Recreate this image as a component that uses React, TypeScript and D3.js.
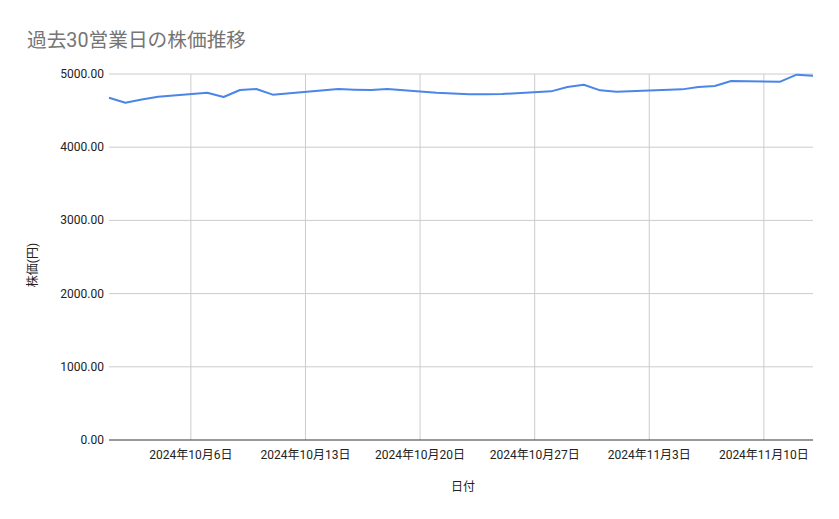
import React, { useRef, useEffect } from 'react';
import * as d3 from 'd3';

// trading days (Oct 14 and Nov 4 are market holidays)
const dates = [
  '2024-10-01', '2024-10-02', '2024-10-03', '2024-10-04',
  '2024-10-07', '2024-10-08', '2024-10-09', '2024-10-10', '2024-10-11',
  '2024-10-15', '2024-10-16', '2024-10-17', '2024-10-18',
  '2024-10-21', '2024-10-22', '2024-10-23', '2024-10-24', '2024-10-25',
  '2024-10-28', '2024-10-29', '2024-10-30', '2024-10-31', '2024-11-01',
  '2024-11-05', '2024-11-06', '2024-11-07', '2024-11-08',
  '2024-11-11', '2024-11-12', '2024-11-13',
];
const prices = [
  4676, 4608, 4652, 4690,
  4745, 4686, 4781, 4795, 4718,
  4795, 4786, 4781, 4795,
  4745, 4734, 4722, 4722, 4727,
  4763, 4822, 4854, 4777, 4758,
  4790, 4822, 4836, 4904,
  4895, 4991, 4977,
];
const xTicks = ['2024-10-06', '2024-10-13', '2024-10-20', '2024-10-27', '2024-11-03', '2024-11-10'];
const yTicks = [0, 1000, 2000, 3000, 4000, 5000];

const font = 'Roboto, "Noto Sans CJK JP", sans-serif';

function Chart() {
  const chartRef = useRef(null);

  useEffect(() => {
    const svg = d3.select(chartRef.current);
    svg.selectAll('*').remove();

    const left = 109;
    const right = 813;
    const top = 74;
    const bottom = 440;

    const data = dates.map((d, i) => ({ date: new Date(d + 'T00:00:00'), value: prices[i] }));

    const xScale = d3
      .scaleTime()
      .domain([new Date('2024-10-01T00:00:00'), new Date('2024-11-13T00:00:00')])
      .range([left, right]);
    const yScale = d3.scaleLinear().domain([0, 5000]).range([bottom, top]);

    svg.append('rect').attr('width', 839).attr('height', 519).attr('fill', '#fff');

    // title
    svg
      .append('text')
      .attr('x', 27)
      .attr('y', 47)
      .attr('font-family', font)
      .attr('font-size', 19.7)
      .attr('fill', '#757575')
      .text('過去30営業日の株価推移');

    // horizontal grid + y labels
    yTicks.forEach((t) => {
      const y = yScale(t);
      if (t !== 0) {
        svg
          .append('line')
          .attr('x1', left)
          .attr('x2', right)
          .attr('y1', y)
          .attr('y2', y)
          .attr('stroke', '#cccccc')
          .attr('stroke-width', 1);
      }
      svg
        .append('text')
        .attr('x', 104)
        .attr('y', y + 4)
        .attr('text-anchor', 'end')
        .attr('font-family', font)
        .attr('font-size', 12)
        .attr('fill', '#222')
        .text(t.toFixed(2));
    });

    // vertical grid + x labels
    xTicks.forEach((t) => {
      const d = new Date(t + 'T00:00:00');
      const x = xScale(d);
      svg
        .append('line')
        .attr('x1', x)
        .attr('x2', x)
        .attr('y1', top)
        .attr('y2', bottom)
        .attr('stroke', '#cccccc')
        .attr('stroke-width', 1);
      svg
        .append('text')
        .attr('x', x)
        .attr('y', 459)
        .attr('text-anchor', 'middle')
        .attr('font-family', font)
        .attr('font-size', 12)
        .attr('fill', '#222')
        .text(`${d.getFullYear()}年${d.getMonth() + 1}月${d.getDate()}日`);
    });

    // baseline
    svg
      .append('line')
      .attr('x1', left)
      .attr('x2', right)
      .attr('y1', bottom)
      .attr('y2', bottom)
      .attr('stroke', '#333')
      .attr('stroke-width', 1);

    // price line
    const line = d3
      .line()
      .x((d) => xScale(d.date))
      .y((d) => yScale(d.value));
    svg
      .append('path')
      .datum(data)
      .attr('d', line)
      .attr('fill', 'none')
      .attr('stroke', '#4a86e8')
      .attr('stroke-width', 2)
      .attr('stroke-linejoin', 'round');

    // axis titles
    svg
      .append('text')
      .attr('x', 463)
      .attr('y', 491)
      .attr('text-anchor', 'middle')
      .attr('font-family', font)
      .attr('font-size', 12)
      .attr('fill', '#222')
      .text('日付');
    svg
      .append('text')
      .attr('transform', 'translate(37,265) rotate(-90)')
      .attr('text-anchor', 'middle')
      .attr('font-family', font)
      .attr('font-size', 12)
      .attr('fill', '#222')
      .text('株価(円)');
  }, []);

  return <svg ref={chartRef} width={839} height={519} style={{ display: 'block' }}></svg>;
}

export default function App() {
  return (
    <div style={{ margin: -8 }}>
      <Chart />
    </div>
  );
}
